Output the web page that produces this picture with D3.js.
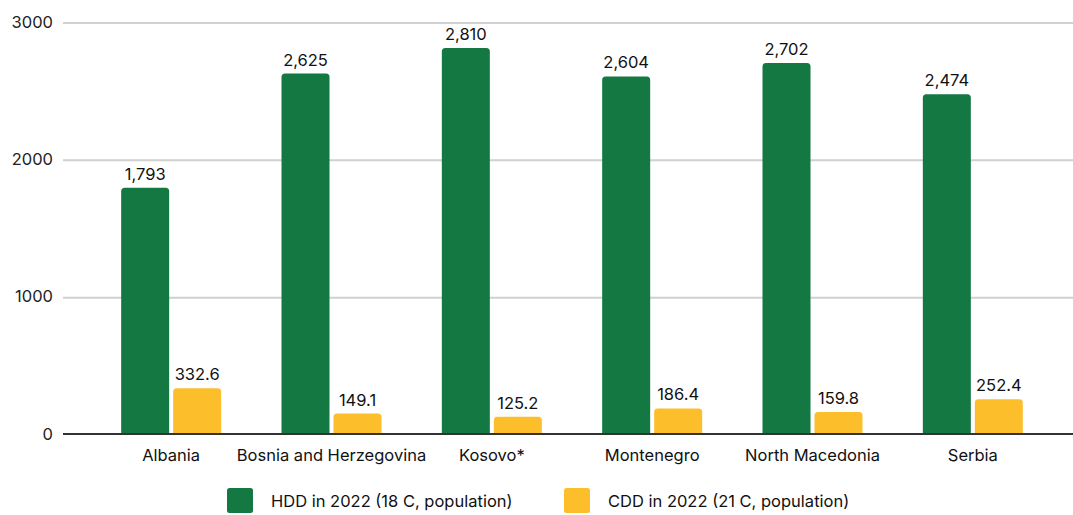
<!DOCTYPE html>
<html>
<head>
<meta charset="utf-8">
<script src="https://cdn.jsdelivr.net/npm/d3@7"></script>
<style>
  html, body { margin: 0; padding: 0; background: #fff; }
  svg { display: block; font-family: Inter, "Noto Sans", sans-serif; }
</style>
</head>
<body>
<svg id="chart" width="1073" height="515"></svg>
<script>
// Degree days by country
const countries = ["Albania", "Bosnia and Herzegovina", "Kosovo*", "Montenegro", "North Macedonia", "Serbia"];
const hdd = [1793, 2625, 2810, 2604, 2702, 2474];
const cdd = [332.6, 149.1, 125.2, 186.4, 159.8, 252.4];
const seriesNames = ["HDD in 2022 (18 C, population)", "CDD in 2022 (21 C, population)"];
const yTicks = [0, 1000, 2000, 3000];

const colors = ["#147843", "#fdbe2c"];

const svg = d3.select("#chart");
const gridLeft = 63, gridRight = 1075;
const fontSize = 16.5;

const y = d3.scaleLinear().domain([0, 3000]).range([434, 22]);
const x = d3.scaleBand().domain(countries).range([91, 1053]).padding(0);
const barW = 48, gap = 4;

// gridlines
svg.append("g")
  .selectAll("line")
  .data(yTicks.filter(d => d > 0))
  .join("line")
  .attr("x1", gridLeft).attr("x2", gridRight)
  .attr("y1", d => y(d) + 1).attr("y2", d => y(d) + 1)
  .attr("stroke", "#d0d0d0").attr("stroke-width", 2);

// y axis labels
const yAxis = d3.axisLeft(y).tickValues(yTicks).tickSize(0).tickPadding(0).tickFormat(d3.format("d"));
const yg = svg.append("g").attr("transform", `translate(${gridLeft - 10},0)`).call(yAxis);
yg.select(".domain").remove();
yg.selectAll("text").attr("font-size", fontSize).attr("fill", "#222").attr("font-family", "Inter, sans-serif");

// rounded-top bar path
function topRounded(x0, y0, w, h, r) {
  r = Math.min(r, h);
  return `M${x0},${y0 + h}V${y0 + r}Q${x0},${y0} ${x0 + r},${y0}H${x0 + w - r}Q${x0 + w},${y0} ${x0 + w},${y0 + r}V${y0 + h}Z`;
}

const rows = countries.map((c, i) => ({ c, vals: [hdd[i], cdd[i]] }));
const fmt = [d3.format(",d"), d3.format(".1f")];

const groups = svg.append("g").selectAll("g")
  .data(rows).join("g")
  .attr("transform", d => `translate(${x(d.c) + x.bandwidth() / 2},0)`);

[0, 1].forEach(s => {
  const bx = s === 0 ? -(barW + gap / 2) : gap / 2;
  groups.append("path")
    .attr("d", d => topRounded(bx, y(d.vals[s]), barW, y(0) - y(d.vals[s]), 3.5))
    .attr("fill", colors[s]);
  groups.append("text")
    .attr("x", bx + barW / 2)
    .attr("y", d => y(d.vals[s]) - 8)
    .attr("text-anchor", "middle")
    .attr("font-size", fontSize)
    .attr("fill", "#111")
    .text(d => fmt[s](d.vals[s]));
});

// baseline
svg.append("line")
  .attr("x1", gridLeft).attr("x2", gridRight)
  .attr("y1", y(0)).attr("y2", y(0))
  .attr("stroke", "#333").attr("stroke-width", 2);

// category labels
const xAxis = d3.axisBottom(x).tickSize(0).tickPadding(0);
const xg = svg.append("g").attr("transform", `translate(0,${y(0) + 15})`).call(xAxis);
xg.select(".domain").remove();
xg.selectAll("text").attr("font-size", fontSize).attr("fill", "#111").attr("font-family", "Inter, sans-serif");

// legend
const legendX = [227, 564];
const legend = svg.append("g").selectAll("g")
  .data(seriesNames).join("g")
  .attr("transform", (d, i) => `translate(${legendX[i]},488)`);
legend.append("rect")
  .attr("width", 26).attr("height", 25).attr("rx", 2.5)
  .attr("fill", (d, i) => colors[i]);
legend.append("text")
  .attr("x", 44).attr("y", 13).attr("dy", "0.35em")
  .attr("font-size", fontSize).attr("fill", "#111")
  .text(d => d);
</script>
</body>
</html>
